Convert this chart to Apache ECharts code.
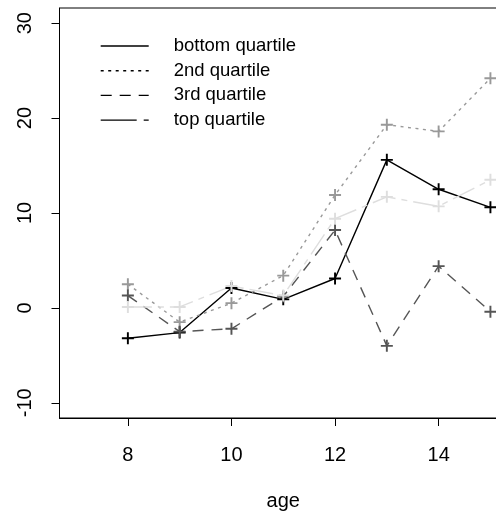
<!DOCTYPE html>
<html>
<head>
<meta charset="utf-8">
<script src="https://cdn.jsdelivr.net/npm/echarts@6/dist/echarts.min.js"></script>
<style>html,body{margin:0;padding:0;background:#fff;}#c{width:496px;height:515px;}</style>
</head>
<body>
<div id="c"></div>
<script>
const ages = [8, 9, 10, 11, 12, 13, 14, 15];
const bottomQuartile = [-3.2, -2.6, 2.1, 0.9, 3.1, 15.6, 12.5, 10.6];
const secondQuartile = [2.5, -1.5, 0.5, 3.4, 11.9, 19.3, 18.6, 24.2];
const thirdQuartile = [1.3, -2.5, -2.2, 1.2, 8.2, -4.0, 4.4, -0.4];
const topQuartile = [0.1, 0.1, 2.3, 1.3, 9.4, 11.7, 10.7, 13.5];
const seriesNames = ['bottom quartile', '2nd quartile', '3rd quartile', 'top quartile'];
const xTicks = [8, 10, 12, 14];
const yTicks = [-10, 0, 10, 20, 30];

const FONT = '"Liberation Sans", Arial, Helvetica, sans-serif';
const plus = 'path://M-0.16,-1 L0.16,-1 L0.16,-0.16 L1,-0.16 L1,0.16 L0.16,0.16 L0.16,1 L-0.16,1 L-0.16,0.16 L-1,0.16 L-1,-0.16 L-0.16,-0.16 Z';

const styles = [
  { color: '#000000', dash: 'solid', legendDash: 'solid' },
  { color: '#999999', dash: [3, 4.5], legendDash: [3, 4.5] },
  { color: '#555555', dash: [11, 8], legendDash: [11, 8] },
  { color: '#dedede', dash: [24, 6, 6, 6], legendDash: [36, 7, 6, 7] }
];
const values = [bottomQuartile, secondQuartile, thirdQuartile, topQuartile];

const series = values.map((vals, i) => ({
  name: seriesNames[i],
  type: 'line',
  data: ages.map((a, j) => [a, vals[j]]),
  symbol: plus,
  symbolSize: 12,
  showSymbol: true,
  itemStyle: { color: styles[i].color },
  lineStyle: { color: styles[i].color, width: 1.4, type: styles[i].dash },
  emphasis: { disabled: true },
  animation: false
}));

const chart = echarts.init(document.getElementById('c'), null, { renderer: 'canvas' });
chart.setOption({
  animation: false,
  backgroundColor: '#fff',
  grid: {
    left: 59.5, top: 8, width: 447.5, height: 410,
    outerBoundsMode: 'none', containLabel: false,
    show: true, borderColor: '#000', borderWidth: 1, backgroundColor: 'transparent'
  },
  legend: {
    orient: 'vertical',
    left: 95, top: 31,
    itemWidth: 48, itemHeight: 20, itemGap: 4.7,
    itemStyle: { opacity: 0 },
    lineStyle: { color: '#000000', width: 1.4, opacity: 1 },
    textStyle: { fontFamily: FONT, fontSize: 18.5, color: '#000', lineHeight: 20, padding: [0, 0, 0, 20] },
    selectedMode: false,
    data: seriesNames.map((n, i) => ({ name: n, lineStyle: { color: '#000000', width: 1.4, type: styles[i].legendDash } }))
  },
  xAxis: {
    type: 'value', min: 6.68, max: 15.32,
    name: 'age', nameLocation: 'middle', nameGap: 73,
    nameTextStyle: { fontFamily: FONT, fontSize: 20, color: '#000' },
    axisLine: { show: true, onZero: false, lineStyle: { color: '#000', width: 1 } },
    axisTick: { show: true, inside: false, length: 8, customValues: xTicks, lineStyle: { color: '#000' } },
    axisLabel: { customValues: xTicks, fontFamily: FONT, fontSize: 20, color: '#000', margin: 27.5 },
    splitLine: { show: false }
  },
  yAxis: {
    type: 'value', min: -11.6, max: 31.6,
    axisLine: { show: true, onZero: false, lineStyle: { color: '#000', width: 1 } },
    axisTick: { show: true, inside: false, length: 8, customValues: yTicks, lineStyle: { color: '#000' } },
    axisLabel: { customValues: yTicks, rotate: 90, fontFamily: FONT, fontSize: 20, color: '#000', margin: 24.5 },
    splitLine: { show: false }
  },
  series: series
});
</script>
</body>
</html>
